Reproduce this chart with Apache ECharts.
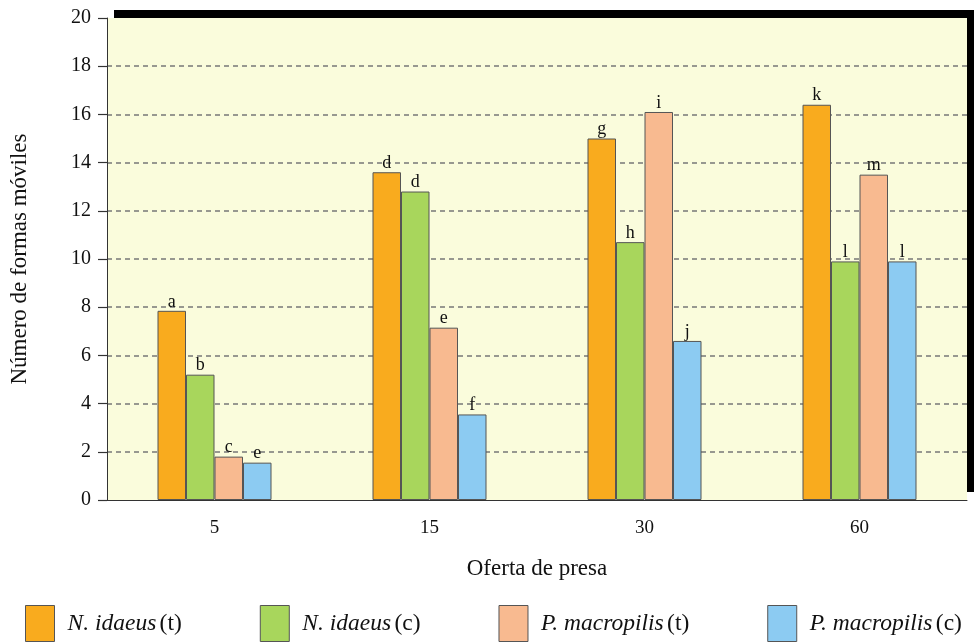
<!DOCTYPE html>
<html><head><meta charset="utf-8">
<script src="https://cdn.jsdelivr.net/npm/echarts@6/dist/echarts.min.js"></script>
<style>html,body{margin:0;padding:0;background:#fff}#c{width:974px;height:643px}</style>
</head><body><div id="c"></div>
<script>
var categories = ['5', '15', '30', '60'];
var seriesNames = ['N. idaeus (t)', 'N. idaeus (c)', 'P. macropilis (t)', 'P. macropilis (c)'];
var nIdaeusT = [7.85, 13.6, 15.0, 16.4];
var nIdaeusC = [5.2, 12.8, 10.7, 9.9];
var pMacroT = [1.8, 7.15, 16.1, 13.5];
var pMacroC = [1.55, 3.55, 6.6, 9.9];
var lettersNT = ['a', 'd', 'g', 'k'];
var lettersNC = ['b', 'd', 'h', 'l'];
var lettersPT = ['c', 'e', 'i', 'm'];
var lettersPC = ['e', 'f', 'j', 'l'];
var colors = ['#f9ab1e', '#a8d65c', '#f8ba90', '#8ccbf2'];

var serif = '"Liberation Serif", "DejaVu Serif", serif';
var values = [nIdaeusT, nIdaeusC, pMacroT, pMacroC];
var letters = [lettersNT, lettersNC, lettersPT, lettersPC];

var chart = echarts.init(document.getElementById('c'));
chart.setOption({
  animation: false,
  color: colors,
  grid: {
    left: 107, right: 7, top: 18, bottom: 143,
    outerBoundsMode: 'none', containLabel: false,
    show: true, backgroundColor: '#fafcdc', borderWidth: 0,
    shadowColor: '#000', shadowBlur: 0, shadowOffsetX: 7, shadowOffsetY: -8
  },
  legend: {
    data: seriesNames,
    left: 25, top: 605, width: 949, padding: 0,
    itemWidth: 29, itemHeight: 36, itemGap: 78,
    icon: 'rect',
    itemStyle: { borderColor: '#555', borderWidth: 1 },
    formatter: function (name) {
      var k = name.lastIndexOf(' ');
      return '{i|' + name.slice(0, k) + '} {n|' + name.slice(k + 1) + '}';
    },
    textStyle: {
      padding: [0, 0, 0, 8],
      rich: {
        i: { fontFamily: serif, fontStyle: 'italic', fontSize: 23.5, color: '#111' },
        n: { fontFamily: serif, fontSize: 23.5, color: '#111' }
      }
    }
  },
  xAxis: [{
    type: 'category', data: categories,
    name: 'Oferta de presa', nameLocation: 'middle', nameGap: 57,
    nameTextStyle: { fontFamily: serif, fontSize: 23, color: '#111' },
    axisLine: { lineStyle: { color: '#333', width: 1 } },
    axisTick: { length: 10, lineStyle: { color: '#333', width: 1.2 } },
    axisLabel: { fontFamily: serif, fontSize: 19, color: '#111', margin: 19 }
  }, {
    type: 'category', data: categories, position: 'bottom',
    axisLine: { show: false },
    axisTick: { alignWithLabel: true, length: 10, lineStyle: { color: '#333', width: 1.2 } },
    axisLabel: { show: false }
  }],
  yAxis: {
    type: 'value', min: 0, max: 20, interval: 2,
    name: 'Número de formas móviles', nameLocation: 'middle', nameGap: 76,
    nameTextStyle: { fontFamily: serif, fontSize: 23, color: '#111' },
    axisLine: { show: true, lineStyle: { color: '#333', width: 1 } },
    axisTick: { show: true, length: 9, lineStyle: { color: '#333', width: 1.2 } },
    axisLabel: { fontFamily: serif, fontSize: 20, color: '#111', margin: 16 },
    splitLine: {
      show: true,
      lineStyle: { color: '#777', type: [5, 4], width: 1.5 },
      showMaxLine: false, showMinLine: false
    }
  },
  series: values.map(function (v, i) {
    return {
      name: seriesNames[i], type: 'bar', xAxisIndex: 0,
      data: v, barWidth: 28.5, barGap: '0%',
      itemStyle: { color: colors[i], borderColor: '#555', borderWidth: 1 },
      label: {
        show: true, position: 'top', distance: 0,
        fontFamily: serif, fontSize: 18, color: '#111',
        formatter: function (p) { return letters[i][p.dataIndex]; }
      }
    };
  })
});
</script>
</body></html>
